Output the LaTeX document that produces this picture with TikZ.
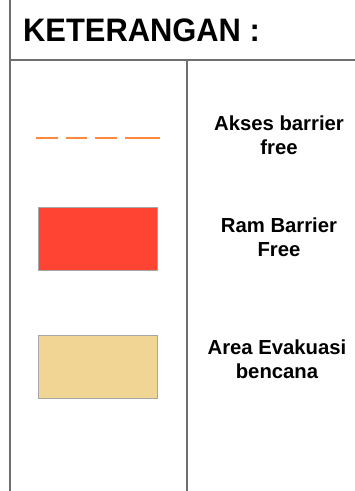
\documentclass[tikz,border=0pt]{standalone}
\usepackage{fontspec}
\setmainfont{Liberation Sans}
\usetikzlibrary{positioning}
\definecolor{garis}{HTML}{6E6E6E}
\definecolor{oranye}{HTML}{FF8A3D}
\definecolor{merah}{HTML}{FF4433}
\definecolor{krem}{HTML}{F0D595}
\tikzset{
    % Define style for the table lines
    grid/.style={draw=garis, line width=1.3pt},
    % Define style for legend boxes
    kotak/.style={
           rectangle,
           draw=black!35, line width=0.8pt,
           minimum width=119pt,
           minimum height=63pt,
           inner sep=0pt},
    % Define style for legend labels
    label teks/.style={
           font=\bfseries\fontsize{20.3}{24.3}\selectfont,
           align=center,
           inner sep=0pt},
    % Define dashed path style
    garis putus/.style={draw=oranye, line width=1.6pt}
}
\begin{document}
\begin{tikzpicture}[x=1pt,y=-1pt]
  \useasboundingbox (0,0) rectangle (355,491);
  % table lines
  \draw[grid] (10,0) -- (10,491);
  \draw[grid] (10,60) -- (355,60);
  \draw[grid] (187,60) -- (187,491);
  % title
  \node[anchor=base west, inner sep=0pt, xscale=0.95,
        font=\bfseries\fontsize{32.5}{38}\selectfont] (judul) at (23,41) {KETERANGAN :};
  % legend symbols
  \coordinate (d1) at (36,138);
  \coordinate (d2) at (160,138);
  \draw[garis putus] (d1) -- (58,138) (66,138) -- (87,138)
    (95,138) -- (117,138) (125,138) -- (d2);
  \node[kotak, fill=merah] (ram) at (97.5,238.5) {};
  \node[kotak, fill=krem] (evakuasi) at (97.5,366.5) {};
  % legend labels
  \node[label teks] (t1) at (279,135) {Akses barrier\\free};
  \node[label teks] (t2) at (279,237) {Ram Barrier\\Free};
  \node[label teks] (t3) at (277,359) {Area Evakuasi\\bencana};
\end{tikzpicture}
\end{document}
